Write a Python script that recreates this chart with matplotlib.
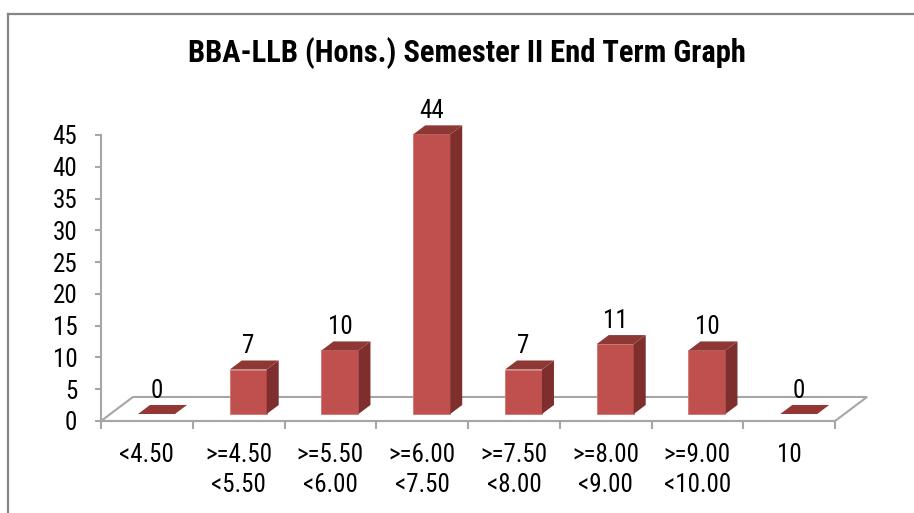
import matplotlib
matplotlib.use('Agg')
import matplotlib.pyplot as plt
from matplotlib.patches import Polygon
from matplotlib.lines import Line2D

plt.rcParams['font.family'] = ['Roboto Condensed', 'Liberation Sans', 'DejaVu Sans']

# ── data ──────────────────────────────────────────────────────────────────────
TITLE = 'BBA-LLB (Hons.) Semester II End Term Graph'
categories = ['<4.50', '>=4.50\n<5.50', '>=5.50\n<6.00', '>=6.00\n<7.50',
              '>=7.50\n<8.00', '>=8.00\n<9.00', '>=9.00\n<10.00', '10']
counts = [0, 7, 10, 44, 7, 11, 10, 0]
y_ticks = [0, 5, 10, 15, 20, 25, 30, 35, 40, 45]

# ── style ─────────────────────────────────────────────────────────────────────
FRONT = '#C0504D'
SIDE = '#7E2F2D'
TOP = '#8E3835'
FLAT = '#943634'
AXIS_COL = '#A6A6A6'
BORDER_COL = '#878787'

# pseudo-3D geometry (data units: x = category, y = value)
FLOOR_DX, FLOOR_DY = 0.349, 3.78
BAR_X0, BAR_W = 0.403, 0.403
BAR_Y0 = 1.1
DEPTH_DX, DEPTH_DY = 0.131, 1.42
LABEL_GAP = 0.35

W, H = 914, 513
fig = plt.figure(figsize=(W / 100, H / 100), dpi=100)
fig.patch.set_facecolor('white')

# chart border (top and left visible)
fig.add_artist(Line2D([8 / W, 1], [1 - 14 / H, 1 - 14 / H], color=BORDER_COL, lw=1.6))
fig.add_artist(Line2D([8 / W, 8 / W], [0, 1 - 14 / H], color=BORDER_COL, lw=1.6))

fig.text(467 / W, 1 - 53 / H, TITLE, ha='center', va='center',
         fontsize=22, fontweight='bold', color='black')

ax = fig.add_axes([101 / W, 1 - 421 / H, 734 / W, 286 / H])
ax.set_xlim(0, len(categories))
ax.set_ylim(0, 45)
ax.patch.set_alpha(0)
for s in ['top', 'right']:
    ax.spines[s].set_visible(False)
ax.spines['left'].set_color(AXIS_COL)
ax.spines['bottom'].set_color(AXIS_COL)
ax.spines['left'].set_linewidth(1.5)
ax.spines['bottom'].set_linewidth(1.5)

# floor
n = len(categories)
floor = Polygon([(0, 0), (n, 0), (n + FLOOR_DX, FLOOR_DY), (FLOOR_DX, FLOOR_DY)],
                closed=True, facecolor='white', edgecolor=AXIS_COL, lw=1.5,
                clip_on=False, zorder=1)
ax.add_patch(floor)

# bars
for i, v in enumerate(counts):
    x0 = i + BAR_X0
    x1 = x0 + BAR_W
    y0 = BAR_Y0
    y1 = BAR_Y0 + v
    if v == 0:
        ax.add_patch(Polygon([(x0, y0), (x1, y0), (x1 + DEPTH_DX, y0 + DEPTH_DY),
                              (x0 + DEPTH_DX, y0 + DEPTH_DY)], closed=True,
                             facecolor=FLAT, edgecolor='none', clip_on=False, zorder=3))
    else:
        ax.add_patch(Polygon([(x0, y0), (x1, y0), (x1, y1), (x0, y1)], closed=True,
                             facecolor=FRONT, edgecolor='#D07572', lw=0.6,
                             clip_on=False, zorder=3))
        ax.add_patch(Polygon([(x1, y0), (x1 + DEPTH_DX, y0 + DEPTH_DY),
                              (x1 + DEPTH_DX, y1 + DEPTH_DY), (x1, y1)], closed=True,
                             facecolor=SIDE, edgecolor='none', clip_on=False, zorder=3))
        ax.add_patch(Polygon([(x0, y1), (x1, y1), (x1 + DEPTH_DX, y1 + DEPTH_DY),
                              (x0 + DEPTH_DX, y1 + DEPTH_DY)], closed=True,
                             facecolor=TOP, edgecolor='none', clip_on=False, zorder=3))
    ax.text(x0 + BAR_W / 2, y1 + DEPTH_DY + LABEL_GAP, str(v), ha='center',
            va='bottom', fontsize=18, color='black', clip_on=False, zorder=4)

# axes ticks
ax.set_yticks(y_ticks)
ax.tick_params(axis='y', direction='out', length=4, width=1.5, color=AXIS_COL,
               labelsize=18, pad=13)
ax.set_xticks(range(n + 1))
ax.set_xticklabels([])
ax.set_xticks([i + 0.5 for i in range(n)], minor=True)
ax.set_xticklabels(categories, minor=True, fontsize=18, linespacing=1.3)
ax.tick_params(axis='x', which='major', direction='out', length=6, width=1.5,
               color=AXIS_COL)
ax.tick_params(axis='x', which='minor', length=0, pad=16)

fig.savefig('out.png', dpi=100, facecolor='white')
